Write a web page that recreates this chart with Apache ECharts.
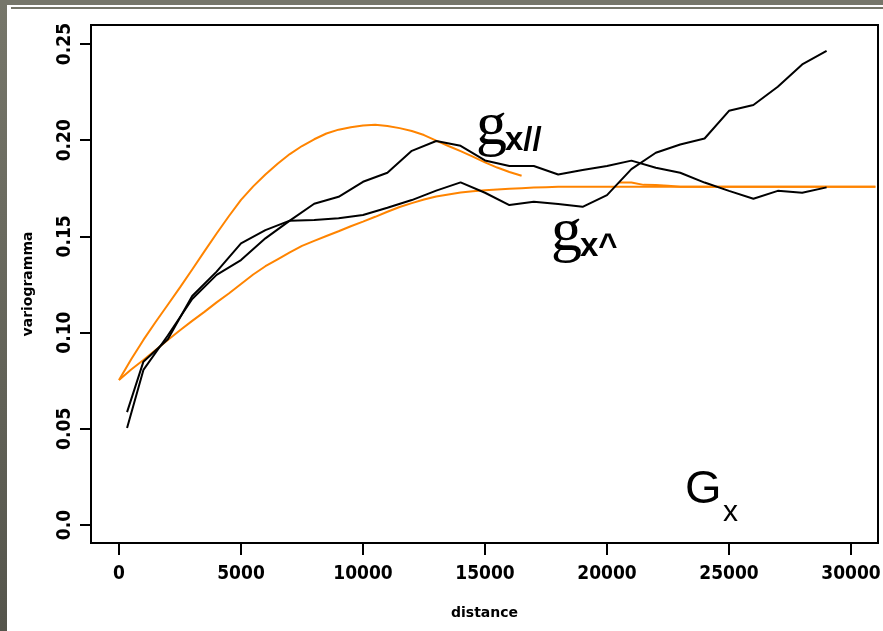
<!DOCTYPE html>
<html>
<head>
<meta charset="utf-8">
<script src="https://cdn.jsdelivr.net/npm/echarts@6/dist/echarts.min.js"></script>
<style>
  html, body { margin: 0; padding: 0; background: #fff; }
  #main { width: 883px; height: 631px; }
</style>
</head>
<body>
<div id="main"></div>
<script>
// empirical variograms (lag distance, value)
var lags = [330, 1000, 2000, 3000, 4000, 5000, 6000, 7000, 8000, 9000, 10000,
  11000, 12000, 13000, 14000, 15000, 16000, 17000, 18000, 19000, 20000,
  21000, 22000, 23000, 24000, 25000, 26000, 27000, 28000, 29000];
var gammaPar = [0.0587, 0.0849, 0.0965, 0.1190, 0.1317, 0.1464, 0.1533, 0.1582, 0.1670, 0.1706, 0.1784,
  0.1831, 0.1945, 0.1996, 0.1971, 0.1895, 0.1866, 0.1866, 0.1822, 0.1845, 0.1866,
  0.1894, 0.1857, 0.1831, 0.1780, 0.1737, 0.1696, 0.1737, 0.1727, 0.1755];
var gammaPerp = [0.0504, 0.0806, 0.0985, 0.1175, 0.1300, 0.1377, 0.1490, 0.1582, 0.1586, 0.1594, 0.1611,
  0.1649, 0.1689, 0.1738, 0.1781, 0.1727, 0.1663, 0.1680, 0.1668, 0.1654, 0.1715,
  0.1850, 0.1935, 0.1978, 0.2009, 0.2153, 0.2183, 0.2278, 0.2394, 0.2465];

// fitted models (orange)
var modelDist = [0, 500, 1000, 1500, 2000, 2500, 3000, 3500, 4000, 4500, 5000, 5500, 6000, 6500,
  7000, 7500, 8000, 8500, 9000, 9500, 10000, 10500, 11000, 11500, 12000, 12500, 13000,
  13500, 14000, 14500, 15000, 15500, 16000, 16500, 17000, 17500, 18000, 18500, 19000,
  19500, 20000, 20500, 21000, 21500, 22000, 22500, 23000, 23500, 24000, 24500, 25000,
  25500, 26000, 26500, 27000, 27500, 28000, 28500, 29000, 29500, 30000, 30500, 31000];
var modelPar = [0.0754, 0.0862, 0.0962, 0.1055, 0.1145, 0.1235, 0.1328, 0.1422, 0.1515, 0.1605, 0.1690, 0.1760, 0.1822, 0.1878,
  0.1928, 0.1970, 0.2005, 0.2035, 0.2055, 0.2068, 0.2077, 0.2080, 0.2074, 0.2063, 0.2048, 0.2027, 0.1998,
  0.1970, 0.1943, 0.1915, 0.1885, 0.1858, 0.1835, 0.1815, null, null, null, null, null,
  null, null, 0.1780, 0.1780, 0.1768, 0.1767, 0.1763, 0.1758, 0.1758, 0.1758, 0.1758, 0.1758,
  0.1758, 0.1758, 0.1758, 0.1758, 0.1758, 0.1758, 0.1758, 0.1758, 0.1758, 0.1758, 0.1758, 0.1758];
var modelPerp = [0.0754, 0.0808, 0.0858, 0.0910, 0.0962, 0.1012, 0.1061, 0.1108, 0.1157, 0.1203, 0.1253, 0.1302, 0.1345, 0.1381,
  0.1417, 0.1451, 0.1477, 0.1502, 0.1527, 0.1553, 0.1577, 0.1602, 0.1628, 0.1653, 0.1673, 0.1692, 0.1708,
  0.1718, 0.1728, 0.1735, 0.1740, 0.1744, 0.1748, 0.1751, 0.1754, 0.1756, 0.1758, 0.1758, 0.1758,
  0.1758, 0.1758, 0.1758, 0.1758, 0.1758, 0.1758, 0.1758, 0.1758, 0.1758, 0.1758, 0.1758, 0.1758,
  0.1758, 0.1758, 0.1758, 0.1758, 0.1758, 0.1758, 0.1758, 0.1758, 0.1758, 0.1758, 0.1758, 0.1758];

// axes ticks
var xTicks = [0, 5000, 10000, 15000, 20000, 25000, 30000];
var yTicks = [0, 0.05, 0.10, 0.15, 0.20, 0.25];
var yTickLabels = ['0.0', '0.05', '0.10', '0.15', '0.20', '0.25'];

function pairs(xs, ys) {
  return xs.map(function (x, i) { return [x, ys[i]]; });
}

var tickFont = {
  fontFamily: '"Liberation Sans Narrow", "DejaVu Sans Condensed", "Liberation Sans", sans-serif',
  fontWeight: 'bold',
  fontSize: 19,
  color: '#000'
};
var nameFont = {
  fontFamily: '"DejaVu Sans", sans-serif',
  fontWeight: 'bold',
  fontSize: 14,
  color: '#000'
};

var myChart = echarts.init(document.getElementById('main'));

var option = {
  backgroundColor: '#fff',
  animation: false,
  grid: {
    left: 91, top: 25, right: 5, bottom: 88,
    outerBoundsMode: 'none',
    show: true, borderColor: '#000', borderWidth: 2,
    backgroundColor: 'transparent'
  },
  xAxis: {
    type: 'value',
    min: -1148, max: 31107,
    name: 'distance',
    nameLocation: 'middle',
    nameGap: 63,
    nameTextStyle: nameFont,
    axisLine: { show: false, onZero: false },
    splitLine: { show: false },
    axisTick: { show: true, inside: false, length: 12, customValues: xTicks,
      lineStyle: { color: '#000', width: 2 } },
    axisLabel: Object.assign({
      customValues: xTicks, margin: 22,
      formatter: function (v) { return String(v); }
    }, tickFont)
  },
  yAxis: {
    type: 'value',
    min: -0.00936, max: 0.2599,
    name: 'variogramma',
    nameLocation: 'middle',
    nameRotate: 90,
    nameGap: 56,
    nameTextStyle: nameFont,
    axisLine: { show: false, onZero: false },
    splitLine: { show: false },
    axisTick: { show: true, inside: false, length: 11, customValues: yTicks,
      lineStyle: { color: '#000', width: 2 } },
    axisLabel: Object.assign({
      customValues: yTicks, margin: 16, rotate: 90,
      formatter: function (v) {
        for (var i = 0; i < yTicks.length; i++) {
          if (Math.abs(yTicks[i] - v) < 1e-9) return yTickLabels[i];
        }
        return '';
      }
    }, tickFont)
  },
  series: [
    { name: 'model //', type: 'line', data: pairs(modelDist, modelPar), showSymbol: false,
      connectNulls: false, lineStyle: { color: '#ff8400', width: 2 }, z: 2 },
    { name: 'model ^', type: 'line', data: pairs(modelDist, modelPerp), showSymbol: false,
      lineStyle: { color: '#ff8400', width: 2 }, z: 2 },
    { name: 'gamma //', type: 'line', data: pairs(lags, gammaPar), showSymbol: false,
      lineStyle: { color: '#000', width: 2 }, z: 3 },
    { name: 'gamma ^', type: 'line', data: pairs(lags, gammaPerp), showSymbol: false,
      lineStyle: { color: '#000', width: 2 }, z: 3 }
  ],
  graphic: [
    // slide frame
    { type: 'rect', shape: { x: 0, y: 0, width: 7, height: 631 },
      style: { fill: new echarts.graphic.LinearGradient(0, 0, 0, 1, [
        { offset: 0, color: '#76766a' }, { offset: 1, color: '#55554c' }]) } },
    { type: 'rect', shape: { x: 0, y: 0, width: 883, height: 5 }, style: { fill: '#76766a' } },
    { type: 'rect', shape: { x: 11, y: 7, width: 872, height: 2 }, style: { fill: '#76766a' } },
    // labels
    { type: 'text', x: 476, y: 128, style: { text: 'g', font: '62px "Liberation Serif", serif',
      fill: '#000', align: 'left', verticalAlign: 'middle' } },
    { type: 'text', x: 505, y: 141, style: { text: 'x//', font: 'bold 33px "Liberation Sans", sans-serif',
      fill: '#000', align: 'left', verticalAlign: 'middle' } },
    { type: 'text', x: 551, y: 234, style: { text: 'g', font: '62px "Liberation Serif", serif',
      fill: '#000', align: 'left', verticalAlign: 'middle' } },
    { type: 'text', x: 580, y: 247, style: { text: 'x^', font: 'bold 33px "Liberation Sans", sans-serif',
      fill: '#000', align: 'left', verticalAlign: 'middle' } },
    { type: 'text', x: 685, y: 490, style: { text: 'G', font: '47px "Liberation Sans", sans-serif',
      fill: '#000', align: 'left', verticalAlign: 'middle' } },
    { type: 'text', x: 723, y: 513, style: { text: 'x', font: '30px "Liberation Sans", sans-serif',
      fill: '#000', align: 'left', verticalAlign: 'middle' } }
  ]
};

myChart.setOption(option);
</script>
</body>
</html>
